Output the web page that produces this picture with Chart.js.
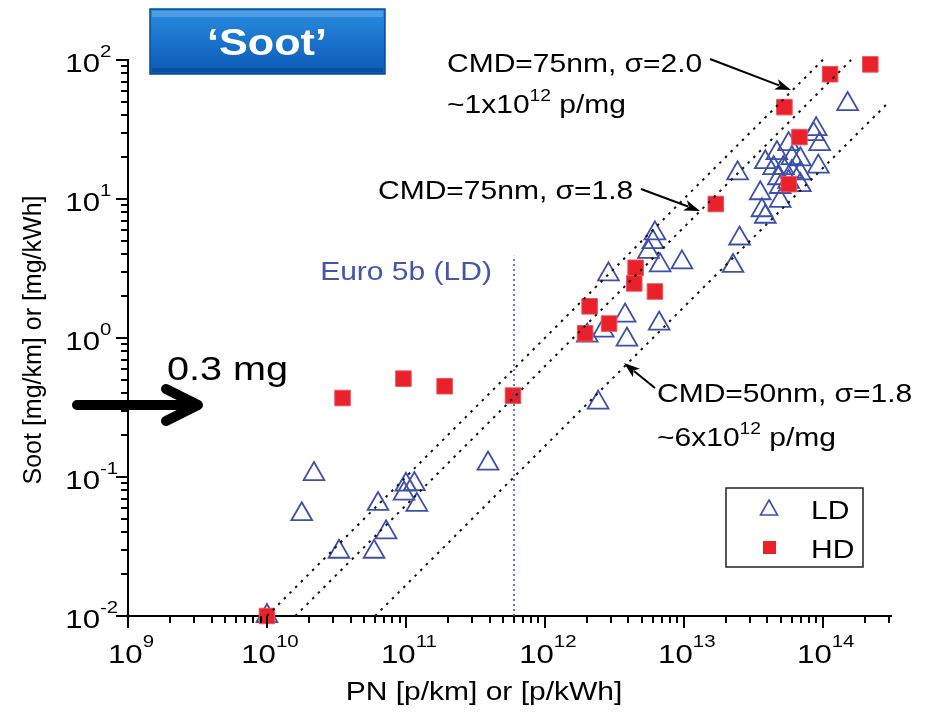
<!DOCTYPE html>
<html>
<head>
<meta charset="utf-8">
<script src="https://cdn.jsdelivr.net/npm/chart.js@4.4.0/dist/chart.umd.min.js"></script>
<style>
html, body { margin: 0; padding: 0; background: #fff; }
#wrap { width: 935px; height: 712px; }
</style>
</head>
<body>
<div id="wrap"><canvas id="chart" width="935" height="712"></canvas></div>
<script>
// LD vehicles (triangles)
const ldPN = [1e10, 2.18e10, 1.78e10, 3.3e10, 6.3e10, 7.2e10, 5.9e10, 1.0e11, 1.15e11, 9.7e10, 1.2e11, 3.9e11, 2.42e12,
  2.02e12, 2.63e12, 2.87e12, 3.78e12, 3.9e12, 6.65e12, 6.76e12, 9.7e12, 6.2e12, 6.0e12, 5.57e12,
  2.26e13, 2.52e13, 2.44e13, 3.55e13, 3.65e13, 3.86e13, 4.94e13, 1.51e14, 8.97e13, 8.6e13, 9.5e13, 9.3e13,
  3.86e13, 4.68e13, 5.68e13, 6.0e13, 6.9e13, 4.43e13, 5.2e13, 6.0e13, 6.9e13, 4.8e13, 5.68e13, 6.9e13, 4.94e13];
const ldSoot = [0.01, 0.105, 0.054, 0.029, 0.064, 0.040, 0.029, 0.088, 0.089, 0.076, 0.063, 0.125, 0.343,
  1.04, 1.13, 2.87, 1.45, 0.975, 1.27, 3.33, 3.5, 5.66, 4.9, 4.17,
  3.3, 5.2, 15.3, 11, 8.3, 7.45, 9.7, 48.2, 31.8, 29.3, 24.8, 17.1,
  18.4, 21.4, 24.8, 19.7, 19.3, 16.7, 16.7, 15.7, 15.3, 14.1, 13.3, 12.6, 12.2];

// HD engines (squares)
const hdPN = [1e10, 3.5e10, 9.6e10, 1.9e11, 5.9e11, 1.95e12, 2.1e12, 2.9e12, 4.4e12, 4.5e12, 6.2e12, 1.7e13, 5.3e13, 5.7e13, 6.8e13, 1.13e14, 2.2e14];
const hdSoot = [0.01, 0.37, 0.51, 0.45, 0.385, 1.08, 1.69, 1.27, 2.47, 3.2, 2.16, 9.2, 45.8, 12.8, 27.9, 79, 93];

// reference lines (mass/number ratios)
const cmd1PN = [1e10, 1.02e14];   const cmd1Soot = [0.01, 102];
const cmd2PN = [1.6e10, 1.6e14];  const cmd2Soot = [0.01, 100];
const cmd3PN = [6e10, 2.85e14];   const cmd3Soot = [0.01, 47.5];
const euroPN = [6e11, 6e11];      const euroSoot = [0.01, 3.9];

const xTickExp = [9, 10, 11, 12, 13, 14];
const yTickExp = [-2, -1, 0, 1, 2];

const SX = 1.2;
const FONT = '"Liberation Sans", Arial, sans-serif';

function pts(xs, ys) {
  return xs.map(function (v, i) { return { x: v, y: ys[i] }; });
}

function wideText(ctx, txt, x, y, size, o) {
  o = o || {};
  ctx.save();
  ctx.font = (o.bold ? 'bold ' : '') + size + 'px ' + FONT;
  ctx.fillStyle = o.color || '#000';
  ctx.textBaseline = 'alphabetic';
  ctx.textAlign = 'left';
  const w = ctx.measureText(txt).width * SX;
  let sx = x;
  if (o.align === 'center') sx = x - w / 2;
  if (o.align === 'right') sx = x - w;
  ctx.translate(sx, y);
  ctx.scale(SX, 1);
  ctx.fillText(txt, 0, 0);
  ctx.restore();
  return w;
}

function textWidth(ctx, txt, size) {
  ctx.save();
  ctx.font = size + 'px ' + FONT;
  const w = ctx.measureText(txt).width * SX;
  ctx.restore();
  return w;
}

function arrow(ctx, x1, y1, x2, y2, head, wid) {
  const ang = Math.atan2(y2 - y1, x2 - x1);
  ctx.save();
  ctx.strokeStyle = '#000';
  ctx.fillStyle = '#000';
  ctx.lineWidth = 2;
  ctx.beginPath();
  ctx.moveTo(x1, y1);
  ctx.lineTo(x2 - Math.cos(ang) * head * 0.8, y2 - Math.sin(ang) * head * 0.8);
  ctx.stroke();
  ctx.translate(x2, y2);
  ctx.rotate(ang);
  ctx.beginPath();
  ctx.moveTo(0, 0);
  ctx.lineTo(-head, -wid / 2);
  ctx.lineTo(-head * 0.75, 0);
  ctx.lineTo(-head, wid / 2);
  ctx.closePath();
  ctx.fill();
  ctx.restore();
}

const decor = {
  id: 'decor',
  afterDraw(chart) {
    const ctx = chart.ctx;
    const a = chart.chartArea;
    const x = chart.scales.x, y = chart.scales.y;

    // ticks
    ctx.save();
    ctx.strokeStyle = '#000';
    ctx.lineWidth = 2;
    ctx.beginPath();
    xTickExp.forEach(function (e) {
      for (let m = 1; m <= 9; m++) {
        const v = m * Math.pow(10, e);
        if (v > x.max) break;
        const px = Math.round(x.getPixelForValue(v));
        ctx.moveTo(px, a.bottom);
        ctx.lineTo(px, a.bottom + (m === 1 ? 12 : 7));
      }
    });
    yTickExp.forEach(function (e) {
      for (let m = 1; m <= 9; m++) {
        const v = m * Math.pow(10, e);
        if (v > y.max * 1.0001) break;
        const py = Math.round(y.getPixelForValue(v));
        ctx.moveTo(a.left, py);
        ctx.lineTo(a.left - (m === 1 ? 12 : 7), py);
      }
    });
    ctx.stroke();
    ctx.restore();

    // tick labels 10^n
    xTickExp.forEach(function (e) {
      const px = x.getPixelForValue(Math.pow(10, e));
      const w1 = textWidth(ctx, '10', 26), w2 = textWidth(ctx, String(e), 17);
      const sx = px - (w1 + w2) / 2 + 3;
      wideText(ctx, '10', sx, 663, 26);
      wideText(ctx, String(e), sx + w1, 647, 17);
    });
    yTickExp.forEach(function (e) {
      const py = y.getPixelForValue(Math.pow(10, e));
      wideText(ctx, '10', 100, py + 12, 26, { align: 'right' });
      wideText(ctx, String(e), 100, py - 3, 17);
    });

    // axis titles
    wideText(ctx, 'PN [p/km] or [p/kWh]', 484, 700, 25, { align: 'center' });
    ctx.save();
    ctx.translate(41, 340);
    ctx.rotate(-Math.PI / 2);
    ctx.font = '25px ' + FONT;
    ctx.fillStyle = '#000';
    ctx.textAlign = 'center';
    ctx.fillText('Soot [mg/km] or [mg/kWh]', 0, 0);
    ctx.restore();

    // Euro 5b label
    wideText(ctx, 'Euro 5b (LD)', 406, 280, 25, { align: 'center', color: '#4356a8' });

    // CMD annotations
    wideText(ctx, 'CMD=75nm, \u03c3=2.0', 447, 72, 25);
    let w = wideText(ctx, '~1x10', 447, 113, 25);
    let w2 = wideText(ctx, '12', 447 + w, 101, 16);
    wideText(ctx, ' p/mg', 447 + w + w2, 113, 25);
    arrow(ctx, 710, 59, 791, 90, 16, 11);

    wideText(ctx, 'CMD=75nm, \u03c3=1.8', 378, 199, 25);
    arrow(ctx, 641, 189, 700, 211, 16, 11);

    wideText(ctx, 'CMD=50nm, \u03c3=1.8', 657, 402, 25);
    w = wideText(ctx, '~6x10', 657, 446, 25);
    w2 = wideText(ctx, '12', 657 + w, 434, 16);
    wideText(ctx, ' p/mg', 657 + w + w2, 446, 25);
    arrow(ctx, 655, 388, 624, 363, 16, 11);

    // 0.3 mg arrow
    wideText(ctx, '0.3 mg', 167, 380, 33);
    ctx.save();
    ctx.strokeStyle = '#000';
    ctx.lineWidth = 10;
    ctx.lineCap = 'round';
    ctx.lineJoin = 'round';
    ctx.beginPath();
    ctx.moveTo(77, 405);
    ctx.lineTo(196, 405);
    ctx.moveTo(166, 389);
    ctx.lineTo(198, 405);
    ctx.lineTo(166, 421);
    ctx.stroke();
    ctx.restore();

    // legend
    ctx.save();
    ctx.fillStyle = '#fff';
    ctx.strokeStyle = '#222';
    ctx.lineWidth = 1.5;
    ctx.fillRect(726, 488, 137, 79);
    ctx.strokeRect(726, 488, 137, 79);
    ctx.strokeStyle = '#3c50aa';
    ctx.lineWidth = 1.6;
    ctx.beginPath();
    ctx.moveTo(769, 500);
    ctx.lineTo(777.5, 515);
    ctx.lineTo(760.5, 515);
    ctx.closePath();
    ctx.stroke();
    ctx.fillStyle = '#e8212b';
    ctx.fillRect(763, 541, 13, 13);
    ctx.restore();
    wideText(ctx, 'LD', 811, 519, 25);
    wideText(ctx, 'HD', 811, 558, 25);

    // 'Soot' title box
    ctx.save();
    const bx = 150, by = 9, bw = 235, bh = 65;
    const g = ctx.createLinearGradient(0, by, 0, by + bh);
    g.addColorStop(0, '#2a8ce0');
    g.addColorStop(1, '#0b5ab5');
    ctx.fillStyle = g;
    ctx.fillRect(bx, by, bw, bh);
    ctx.fillStyle = 'rgba(255,255,255,0.18)';
    ctx.fillRect(bx + 2, by + 2, bw - 4, 6);
    ctx.fillStyle = 'rgba(0,30,90,0.25)';
    ctx.fillRect(bx + 2, by + bh - 6, bw - 4, 4);
    ctx.strokeStyle = '#0a4a95';
    ctx.lineWidth = 1.5;
    ctx.strokeRect(bx, by, bw, bh);
    ctx.restore();
    wideText(ctx, '\u2018Soot\u2019', 267, 55, 36, { align: 'center', bold: true, color: '#fff' });
  }
};

const guideStyle = { showLine: true, pointRadius: 0, borderColor: '#111', borderWidth: 2, borderDash: [2.5, 5.5], order: -1, clip: false };

new Chart(document.getElementById('chart'), {
  type: 'scatter',
  data: {
    datasets: [
      { label: 'LD', data: pts(ldPN, ldSoot), pointStyle: 'triangle', pointRadius: 12, pointBorderWidth: 1.8,
        borderColor: '#3c50aa', backgroundColor: 'rgba(0,0,0,0)', order: 1, clip: false },
      { label: 'HD', data: pts(hdPN, hdSoot), pointStyle: 'rect', pointRadius: 11, pointBorderWidth: 1,
        borderColor: '#f0545a', backgroundColor: '#e8212b', order: 0, clip: false },
      Object.assign({ label: 'cmd1', data: pts(cmd1PN, cmd1Soot) }, guideStyle),
      Object.assign({ label: 'cmd2', data: pts(cmd2PN, cmd2Soot) }, guideStyle),
      Object.assign({ label: 'cmd3', data: pts(cmd3PN, cmd3Soot) }, guideStyle),
      { label: 'euro', data: pts(euroPN, euroSoot), showLine: true, pointRadius: 0, borderColor: '#4356a8',
        borderWidth: 1.6, borderDash: [2, 3], order: -1, clip: false }
    ]
  },
  options: {
    responsive: false,
    animation: false,
    devicePixelRatio: 1,
    layout: { padding: { left: 128, top: 60, right: 44, bottom: 96 } },
    plugins: { legend: { display: false }, tooltip: { enabled: false } },
    scales: {
      x: {
        type: 'logarithmic', min: 1e9, max: 3.1e14,
        grid: { display: false, drawTicks: false },
        ticks: { display: false },
        border: { display: true, color: '#000', width: 2 }
      },
      y: {
        type: 'logarithmic', min: 0.01, max: 100,
        grid: { display: false, drawTicks: false },
        ticks: { display: false },
        border: { display: true, color: '#000', width: 2 }
      }
    }
  },
  plugins: [decor]
});
</script>
</body>
</html>
